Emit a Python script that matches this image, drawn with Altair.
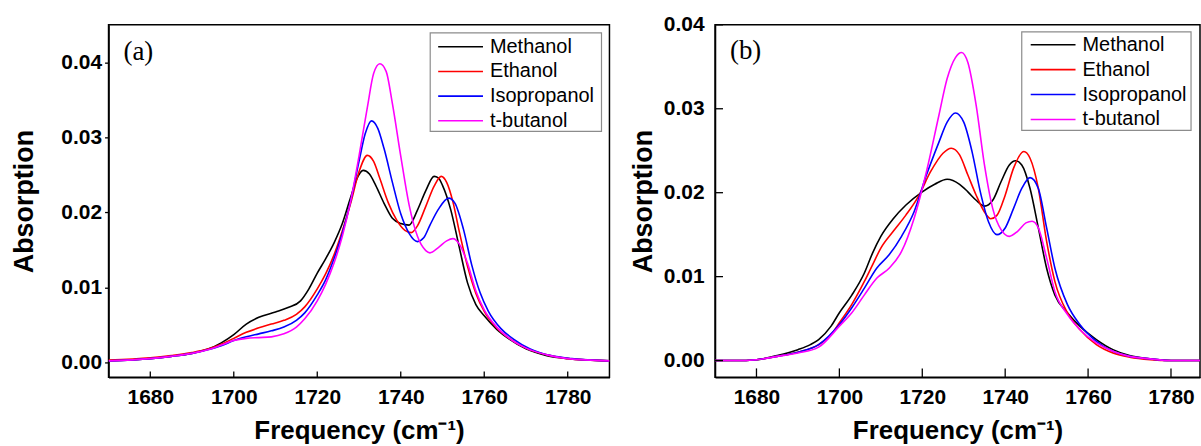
import altair as alt
import pandas as pd

SERIES = ["Methanol", "Ethanol", "Isopropanol", "t-butanol"]
COLORS = ["#000000", "#ff0000", "#0000ff", "#ff00ff"]

# ---------------- Panel (a) ----------------
a_meth_x = [1670, 1680, 1685, 1690, 1694, 1697, 1700, 1703, 1706, 1710, 1713, 1716, 1718, 1720, 1722, 1724, 1726, 1728, 1729.5, 1731, 1732.5, 1734, 1736, 1738, 1740, 1742, 1744, 1746, 1748, 1749, 1750, 1752, 1754, 1756, 1758, 1760, 1763, 1766, 1770, 1775, 1780, 1790]
a_meth_y = [0.0002, 0.0005, 0.0008, 0.0012, 0.0018, 0.0026, 0.0037, 0.0051, 0.0060, 0.0067, 0.0073, 0.0082, 0.0098, 0.0119, 0.0138, 0.0159, 0.0185, 0.0220, 0.0245, 0.0256, 0.0251, 0.0236, 0.0212, 0.0192, 0.0185, 0.0183, 0.0203, 0.0229, 0.0248, 0.0246, 0.0236, 0.0203, 0.0154, 0.0106, 0.0077, 0.0062, 0.0044, 0.0031, 0.0018, 0.0009, 0.0005, 0.0002]

a_eth_x = [1670, 1680, 1685, 1690, 1694, 1697, 1700, 1703, 1706, 1709, 1712, 1715, 1717, 1720, 1722, 1724, 1726, 1728, 1730, 1732, 1733.5, 1735, 1737, 1739, 1741, 1742.5, 1744, 1746, 1748, 1749.7, 1751, 1752.5, 1754, 1756, 1758, 1760, 1763, 1766, 1770, 1775, 1780, 1790]
a_eth_y = [0.0003, 0.0006, 0.0009, 0.0013, 0.0018, 0.0024, 0.0032, 0.0040, 0.0046, 0.0051, 0.0056, 0.0064, 0.0074, 0.0098, 0.0118, 0.0143, 0.0175, 0.0212, 0.0254, 0.0276, 0.0268, 0.0245, 0.0213, 0.0190, 0.0176, 0.0173, 0.0182, 0.0208, 0.0235, 0.0248, 0.0240, 0.0214, 0.0175, 0.0128, 0.0092, 0.0068, 0.0046, 0.0032, 0.0019, 0.0010, 0.0005, 0.0002]

a_iso_x = [1670, 1680, 1685, 1690, 1694, 1697, 1700, 1703, 1706, 1709, 1712, 1715, 1717, 1720, 1722, 1724, 1726, 1728, 1730, 1731.5, 1733, 1734.5, 1736, 1738, 1740, 1742, 1744, 1745.5, 1747, 1749, 1751.5, 1753, 1755, 1757, 1759, 1761, 1764, 1767, 1771, 1776, 1781, 1790]
a_iso_y = [0.0002, 0.0005, 0.0008, 0.0012, 0.0017, 0.0022, 0.0029, 0.0034, 0.0038, 0.0042, 0.0047, 0.0056, 0.0066, 0.0090, 0.0110, 0.0138, 0.0172, 0.0215, 0.0268, 0.0305, 0.0322, 0.0312, 0.0285, 0.0240, 0.0198, 0.0172, 0.0161, 0.0166, 0.0183, 0.0204, 0.0219, 0.0212, 0.0178, 0.0130, 0.0093, 0.0068, 0.0045, 0.0031, 0.0018, 0.0009, 0.0005, 0.0002]

a_tbu_x = [1670, 1680, 1685, 1690, 1694, 1697, 1700, 1703, 1706, 1709, 1712, 1715, 1717, 1720, 1722, 1724, 1726, 1728, 1730, 1732, 1733.5, 1735, 1736.5, 1738, 1740, 1742, 1744, 1746, 1747, 1749, 1751, 1752.5, 1754, 1756, 1758, 1760, 1763, 1766, 1770, 1775, 1780, 1790]
a_tbu_y = [0.0002, 0.0005, 0.0008, 0.0012, 0.0017, 0.0023, 0.0029, 0.0032, 0.0033, 0.0034, 0.0038, 0.0047, 0.0058, 0.0082, 0.0104, 0.0132, 0.0168, 0.0215, 0.0275, 0.0340, 0.0385, 0.0398, 0.0388, 0.0345, 0.0275, 0.0210, 0.0168, 0.0149, 0.0146, 0.0153, 0.0162, 0.0165, 0.0158, 0.0132, 0.0095, 0.0070, 0.0047, 0.0032, 0.0019, 0.0010, 0.0005, 0.0002]

# ---------------- Panel (b) ----------------
b_meth_x = [1670, 1675, 1680, 1685, 1690, 1693, 1695, 1698, 1700, 1703, 1706, 1708, 1710, 1713, 1716, 1720, 1723, 1726, 1729, 1731, 1733, 1735, 1737, 1739, 1741, 1742.5, 1744, 1746, 1748, 1750, 1752, 1755, 1758, 1762, 1766, 1770, 1775, 1780, 1787]
b_meth_y = [0.0, 0.0, 0.0001, 0.0006, 0.0013, 0.0019, 0.0025, 0.0041, 0.0057, 0.0078, 0.0104, 0.0128, 0.0148, 0.0169, 0.0185, 0.0201, 0.0210, 0.0216, 0.0210, 0.0201, 0.0191, 0.0184, 0.0191, 0.0213, 0.0233, 0.0238, 0.0233, 0.0205, 0.0158, 0.0110, 0.0078, 0.0057, 0.0041, 0.0025, 0.0013, 0.0006, 0.0002, 0.0, 0.0]

b_eth_x = [1670, 1675, 1680, 1685, 1690, 1695, 1698, 1700, 1703, 1706, 1708, 1710, 1713, 1716, 1719, 1722, 1725, 1727, 1729, 1731, 1733, 1735, 1736.5, 1738, 1740, 1742, 1744.5, 1746, 1748, 1750, 1752, 1755, 1758, 1762, 1766, 1770, 1775, 1780, 1787]
b_eth_y = [0.0, 0.0, 0.0001, 0.0005, 0.0010, 0.0019, 0.0031, 0.0045, 0.0067, 0.0094, 0.0114, 0.0134, 0.0154, 0.0173, 0.0195, 0.0225, 0.0247, 0.0253, 0.0245, 0.0221, 0.0197, 0.0177, 0.0169, 0.0173, 0.0197, 0.0229, 0.0249, 0.0241, 0.0205, 0.0142, 0.0094, 0.0057, 0.0037, 0.0019, 0.0009, 0.0004, 0.0001, 0.0, 0.0]

b_iso_x = [1670, 1675, 1680, 1685, 1690, 1695, 1700, 1703, 1706, 1709, 1712, 1715, 1718, 1721, 1724, 1726, 1728, 1730, 1732, 1734, 1736, 1738, 1740, 1742, 1744, 1746, 1748, 1750, 1752, 1755, 1758, 1762, 1766, 1770, 1775, 1780, 1787]
b_iso_y = [0.0, 0.0, 0.0001, 0.0005, 0.0010, 0.0019, 0.0043, 0.0063, 0.0086, 0.0110, 0.0126, 0.0148, 0.0177, 0.0221, 0.0260, 0.0284, 0.0295, 0.0284, 0.0249, 0.0201, 0.0165, 0.0150, 0.0158, 0.0181, 0.0205, 0.0218, 0.0205, 0.0158, 0.0110, 0.0067, 0.0043, 0.0023, 0.0011, 0.0005, 0.0002, 0.0, 0.0]

b_tbu_x = [1670, 1675, 1680, 1685, 1690, 1695, 1700, 1703, 1706, 1709, 1712, 1715, 1718, 1721, 1724, 1726, 1728, 1729.5, 1731, 1733, 1735, 1737, 1739, 1741, 1743, 1745, 1746.5, 1748, 1750, 1752, 1755, 1758, 1762, 1766, 1770, 1775, 1780, 1787]
b_tbu_y = [0.0, 0.0, 0.0001, 0.0005, 0.0009, 0.0016, 0.0041, 0.0057, 0.0078, 0.0098, 0.0110, 0.0130, 0.0169, 0.0225, 0.0292, 0.0336, 0.0361, 0.0367, 0.0355, 0.0304, 0.0233, 0.0181, 0.0156, 0.0148, 0.0154, 0.0164, 0.0166, 0.0158, 0.0122, 0.0082, 0.0055, 0.0037, 0.0021, 0.0011, 0.0005, 0.0002, 0.0, 0.0]

X_TICKS = [1680, 1700, 1720, 1740, 1760, 1780]
Y_TICKS = [0.0, 0.01, 0.02, 0.03, 0.04]

FONT = "Liberation Sans"


def make_df(pairs):
    frames = []
    for name, (xs, ys) in zip(SERIES, pairs):
        frames.append(pd.DataFrame({"x": xs, "y": ys, "series": name}))
    return pd.concat(frames, ignore_index=True)


df_a = make_df([(a_meth_x, a_meth_y), (a_eth_x, a_eth_y), (a_iso_x, a_iso_y), (a_tbu_x, a_tbu_y)])
df_b = make_df([(b_meth_x, b_meth_y), (b_eth_x, b_eth_y), (b_iso_x, b_iso_y), (b_tbu_x, b_tbu_y)])


def panel(df, xdom, ydom, W, H, tag, leg, y_ticks_out, y_tick_in_len, x_tick_in_len, y_label_pad, y_title_pad):
    xs = alt.Scale(domain=xdom, nice=False, zero=False)
    ys = alt.Scale(domain=ydom, nice=False, zero=False)
    xaxis = alt.Axis(values=X_TICKS, format="d", tickSize=0, labelPadding=9, grid=False,
                     title="Frequency (cm\u207b\u00b9)", titlePadding=10, titleFontSize=26)
    yaxis = alt.Axis(values=Y_TICKS, format=".2f", tickSize=y_ticks_out, tickColor="black",
                     tickWidth=1.3, labelPadding=y_label_pad, grid=False,
                     title="Absorption", titlePadding=y_title_pad, titleFontSize=27)
    lines = alt.Chart(df).mark_line(interpolate="monotone", strokeWidth=1.6, clip=True).encode(
        x=alt.X("x:Q", scale=xs, axis=xaxis),
        y=alt.Y("y:Q", scale=ys, axis=yaxis),
        color=alt.Color("series:N", scale=alt.Scale(domain=SERIES, range=COLORS), legend=None),
        detail="series:N",
    )
    layers = [lines]
    xt = pd.DataFrame({"t": X_TICKS})
    layers.append(alt.Chart(xt).mark_rule(color="black", strokeWidth=1.3).encode(
        x=alt.X("t:Q", scale=xs), y=alt.value(H), y2=alt.value(H - x_tick_in_len)))
    if y_tick_in_len > 0:
        yt = pd.DataFrame({"t": Y_TICKS})
        layers.append(alt.Chart(yt).mark_rule(color="black", strokeWidth=1.3).encode(
            y=alt.Y("t:Q", scale=ys), x=alt.value(0), x2=alt.value(y_tick_in_len)))
    # panel tag
    tag_df = pd.DataFrame({"t": [tag]})
    layers.append(alt.Chart(tag_df).mark_text(align="left", baseline="middle", font="Liberation Serif",
                                              fontSize=27, color="black").encode(
        x=alt.value(15), y=alt.value(leg["tagy"]), text="t:N"))
    # legend box
    lx0, ly0, lx1, ly1 = leg["box"]
    box_df = pd.DataFrame({"k": [0]})
    layers.append(alt.Chart(box_df).mark_rect(fill="white", stroke="#8c8c8c", strokeWidth=1.2).encode(
        x=alt.value(lx0), x2=alt.value(lx1), y=alt.value(ly0), y2=alt.value(ly1)))
    leg_df = pd.DataFrame({"series": SERIES})
    for i, (name, col) in enumerate(zip(SERIES, COLORS)):
        ry = leg["row0"] + i * leg["dy"]
        sub = alt.Chart(leg_df).transform_filter(alt.datum.series == name)
        layers.append(sub.mark_rule(color=col, strokeWidth=1.6).encode(
            x=alt.value(leg["lx0"]), x2=alt.value(leg["lx1"]), y=alt.value(ry)))
        layers.append(sub.mark_text(align="left", baseline="middle", font=FONT, fontSize=20,
                                    color="black").encode(
            x=alt.value(leg["tx"]), y=alt.value(ry), text="series:N"))
    return alt.layer(*layers).properties(width=W, height=H)


pa = panel(df_a, [1670, 1790], [-0.002, 0.045], 503, 354, "(a)",
           {"tagy": 27, "box": (323, 8, 495, 107), "row0": 22, "dy": 24.8, "lx0": 331, "lx1": 376, "tx": 383},
           y_ticks_out=4, y_tick_in_len=0, x_tick_in_len=6, y_label_pad=3, y_title_pad=22)
pb = panel(df_b, [1670, 1787], [-0.002, 0.040], 487, 354, "(b)",
           {"tagy": 26, "box": (308, 7, 478, 106), "row0": 20, "dy": 25, "lx0": 317, "lx1": 362, "tx": 369},
           y_ticks_out=0, y_tick_in_len=8, x_tick_in_len=9, y_label_pad=11, y_title_pad=6)

chart = alt.hconcat(pa, pb, spacing=18).properties(
    padding={"left": 10, "top": 12, "right": 0, "bottom": 0},
    background="white",
).configure_view(stroke="black", strokeWidth=1.5).configure_axis(
    labelFont=FONT, labelFontSize=21, labelFontWeight="bold", labelColor="black",
    titleFont=FONT, titleFontWeight="bold", titleColor="black",
    domainColor="black", domainWidth=1.5,
)

chart.save("out.html", embed_options={"renderer": "svg", "actions": False})
